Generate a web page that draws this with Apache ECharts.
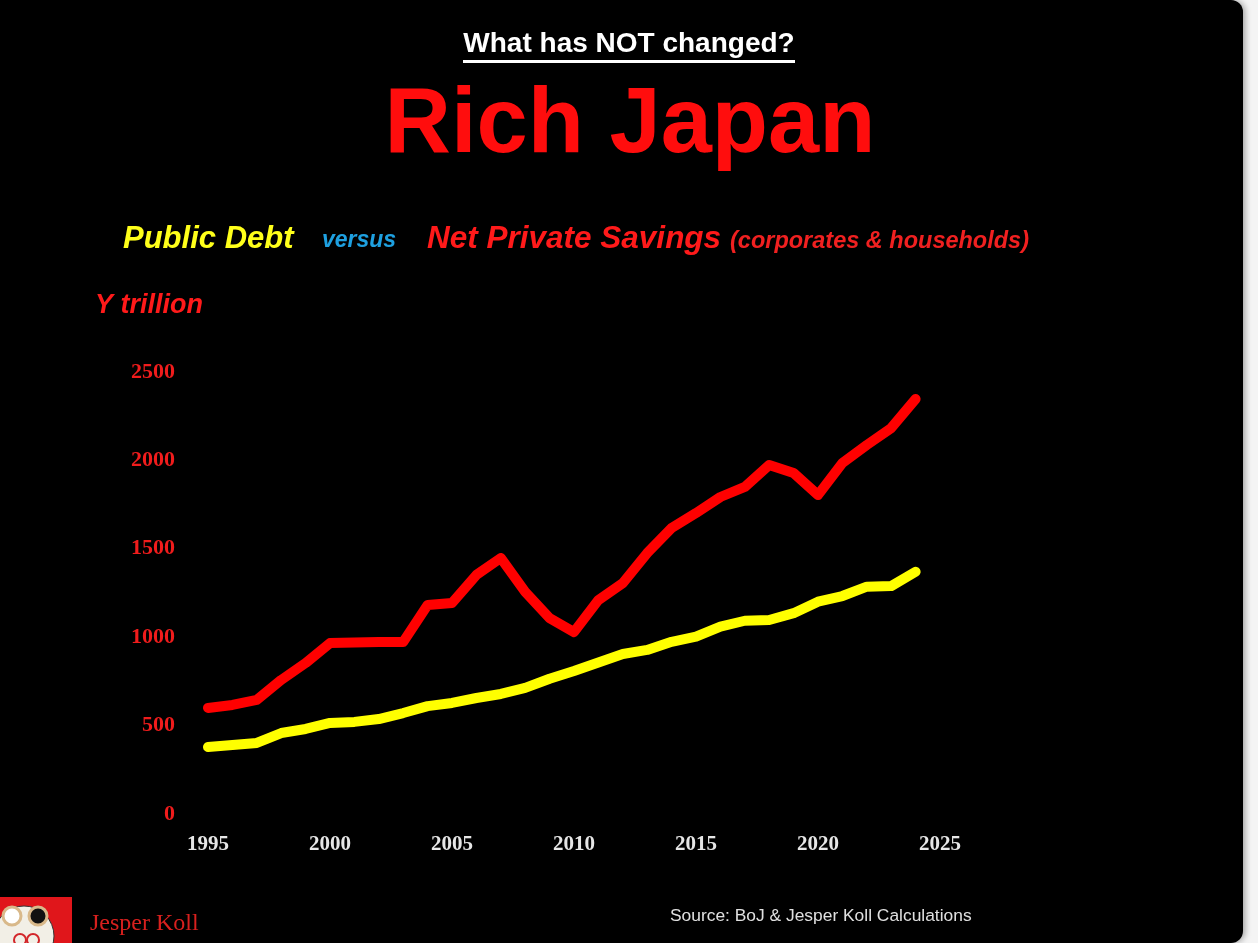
<!DOCTYPE html>
<html>
<head>
<meta charset="utf-8">
<title>Rich Japan</title>
<script src="https://cdn.jsdelivr.net/npm/echarts@6/dist/echarts.min.js"></script>
<style>
html,body{margin:0;padding:0;background:#f4f4f4;}
#RichJapanChart{width:1258px;height:943px;}
</style>
</head>
<body>
<div id="RichJapanChart"></div>
<script>
// years on the x axis
var years = [1995,1996,1997,1998,1999,2000,2001,2002,2003,2004,2005,2006,2007,2008,2009,
	2010,2011,2012,2013,2014,2015,2016,2017,2018,2019,2020,2021,2022,2023,2024];
// Y trillion
var publicDebt = [379,390,402,458,481,515,521,537,571,610,628,656,679,713,765,
	809,857,905,928,974,1003,1060,1093,1097,1136,1201,1233,1286,1289,1370];
var netPrivateSavings = [600,617,645,758,854,967,970,973,973,1182,1193,1352,1448,1256,1108,
	1029,1210,1306,1476,1617,1702,1793,1850,1974,1929,1804,1985,2087,2183,2347];
var xTicks = [1995,2000,2005,2010,2015,2020,2025];
var yTicks = [0,500,1000,1500,2000,2500];

function pairs(vals){
	var out = [];
	for(var i=0;i<years.length;i++){
		out.push([years[i], vals[i]]);
	}
	return out;
}

var sans = '"Liberation Sans", Arial, sans-serif';
var serif = '"Liberation Serif", "Times New Roman", serif';

var myChart = echarts.init(document.getElementById('RichJapanChart'));
var option = {
	backgroundColor: 'transparent',
	animation: false,
	graphic: [
		// black slide with rounded right corners
		{type:'rect', z:-10, shape:{x:0,y:0,width:1243,height:943,r:[0,12,12,0]},
			style:{fill:'#000', shadowBlur:6, shadowColor:'rgba(0,0,0,0.35)', shadowOffsetX:2}},
		{type:'text', left:'center', top:30, style:{text:'What has NOT changed?', fill:'#fff',
			font:'bold 28px ' + sans}},
		{type:'rect', shape:{x:463,y:60,width:332,height:3}, style:{fill:'#fff'}},
		{type:'text', x:630, y:127, style:{text:'Rich Japan', fill:'#ff0d0d',
			font:'bold 92px ' + sans, align:'center', verticalAlign:'middle'}},
		// legend line
		{type:'text', x:123, y:239, style:{text:'Public Debt', fill:'#ffff1a',
			font:'italic bold 31px ' + sans, verticalAlign:'middle'}},
		{type:'text', x:322, y:241, style:{text:'versus', fill:'#1ea0e0',
			font:'italic bold 23px ' + sans, verticalAlign:'middle'}},
		{type:'text', x:427, y:239, style:{text:'Net Private Savings', fill:'#ff1a1a',
			font:'italic bold 31.5px ' + sans, verticalAlign:'middle'}},
		{type:'text', x:730, y:242, style:{text:'(corporates & households)', fill:'#f02020',
			font:'italic bold 23.5px ' + sans, verticalAlign:'middle'}},
		{type:'text', x:95, y:306, style:{text:'Y trillion', fill:'#ff1a1a',
			font:'italic bold 27px ' + sans, verticalAlign:'middle'}},
		// footer
		{type:'text', x:670, y:916, style:{text:'Source: BoJ & Jesper Koll Calculations', fill:'#e0e0e0',
			font:'17.4px ' + sans, verticalAlign:'middle'}},
		{type:'text', x:90, y:924, style:{text:'Jesper Koll', fill:'#d8201e',
			font:'24px ' + serif, verticalAlign:'middle'}},
		// little daruma logo
		{type:'rect', shape:{x:0,y:897,width:72,height:46}, style:{fill:'#e0161b'}},
		{type:'circle', shape:{cx:24,cy:936,r:30}, style:{fill:'#f2efe6', stroke:'#333', lineWidth:1}},
		{type:'circle', shape:{cx:12,cy:916,r:9}, style:{fill:'#fff', stroke:'#d9b98a', lineWidth:3}},
		{type:'circle', shape:{cx:38,cy:916,r:9}, style:{fill:'#111', stroke:'#d9b98a', lineWidth:3}},
		{type:'circle', shape:{cx:20,cy:940,r:6}, style:{fill:'none', stroke:'#d3262a', lineWidth:2}},
		{type:'circle', shape:{cx:33,cy:940,r:6}, style:{fill:'none', stroke:'#d3262a', lineWidth:2}}
	],
	grid: {left:208, right:318, top:372, bottom:129},
	xAxis: {
		type: 'value',
		min: xTicks[0],
		max: xTicks[xTicks.length-1],
		interval: 5,
		axisLine:{show:false}, axisTick:{show:false}, splitLine:{show:false},
		axisLabel:{color:'#e6e6e6', fontFamily:serif, fontWeight:'bold', fontSize:21, margin:20,
			formatter:function(v){ return xTicks.indexOf(v) >= 0 ? String(v) : ''; }}
	},
	yAxis: {
		type: 'value',
		min: yTicks[0],
		max: yTicks[yTicks.length-1],
		interval: 500,
		axisLine:{show:false}, axisTick:{show:false}, splitLine:{show:false},
		axisLabel:{color:'#f01c1c', fontFamily:serif, fontWeight:'bold', fontSize:22, margin:33,
			formatter:function(v){ return String(v); }}
	},
	series: [
		{
			name:'Public Debt',
			type:'line',
			showSymbol:false,
			data: pairs(publicDebt),
			lineStyle:{color:'#ffff00', width:10, cap:'round', join:'round'}
		},
		{
			name:'Net Private Savings',
			type:'line',
			showSymbol:false,
			data: pairs(netPrivateSavings),
			lineStyle:{color:'#ff0000', width:10, cap:'round', join:'round'}
		}
	]
};
// 渲染
myChart.setOption(option);
</script>
</body>
</html>
